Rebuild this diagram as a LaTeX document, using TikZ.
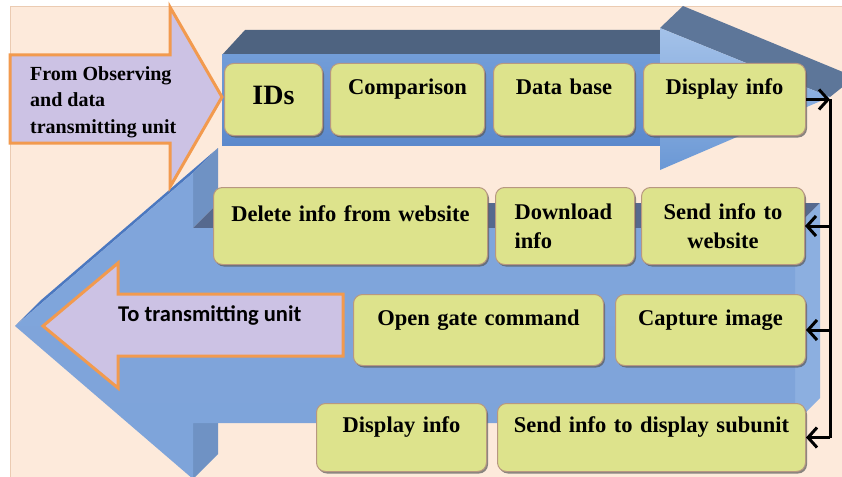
\documentclass[tikz,border=0pt]{standalone}
\usepackage{fontspec}
\setmainfont{Liberation Serif}
\newfontfamily\calfont{Carlito}
\usetikzlibrary{arrows.meta,shadows}
\definecolor{peach}{HTML}{FDEADB}
\definecolor{peachedge}{HTML}{EBCBB2}
\definecolor{uptopc}{HTML}{4E6380}
\definecolor{uphtopc}{HTML}{5D7699}
\definecolor{lowtopc}{HTML}{56698E}
\definecolor{lowsidec}{HTML}{8CAFE0}
\definecolor{panelc}{HTML}{6F92C4}
\definecolor{htopc}{HTML}{4B78C0}
\definecolor{lowA}{HTML}{80A5DB}
\definecolor{lowB}{HTML}{5886CE}
\definecolor{lowC}{HTML}{7EA4DA}
\definecolor{upA}{HTML}{729DD8}
\definecolor{upB}{HTML}{5C89CC}
\definecolor{uhA}{HTML}{A4C2E9}
\definecolor{uhB}{HTML}{6B98D5}
\definecolor{boxfill}{HTML}{DDE38C}
\definecolor{boxedge}{HTML}{B89880}
\definecolor{lav}{HTML}{CCC2E4}
\definecolor{orng}{HTML}{F29A4E}
\begin{document}
\begin{tikzpicture}[x=1pt,y=-1pt,
  box/.style={anchor=north west, rounded corners=9pt, fill=boxfill, draw=boxedge, line width=1pt,
    drop shadow={shadow xshift=1.5pt, shadow yshift=-2pt, opacity=0.7, fill=black!65},
    inner xsep=5pt, inner ysep=0pt, align=center,
    font=\bfseries\fontsize{22.5}{29}\selectfont},
  oneline/.style={text height=16pt, text depth=26pt},
  inarrow/.style={fill=lav, draw=orng, line width=3pt, line join=miter},
  conn/.style={draw=black, line width=3pt},
  tip/.style={-{Straight Barb[length=9pt,width=20pt,line width=3pt]}}
]
\useasboundingbox (0,0) rectangle (842,476);
\clip (0,0) rectangle (842,476);
\fill[white] (0,0) rectangle (842,476);
\fill[peach, draw=peachedge, line width=1pt] (10,7) rectangle (845,480);

% lower big arrow (pointing left)
\fill[htopc] (15,326) -- (40,301) -- (218,148) -- (193,173) -- cycle;
\fill[panelc] (193,173) -- (218,148) -- (218,203) -- (193,228) -- cycle;
\fill[panelc] (193,423) -- (218,398) -- (218,454) -- (193,479) -- cycle;
\fill[lowtopc] (193,228) -- (218,203) -- (820,203) -- (795,228) -- cycle;
\fill[lowsidec] (795,228) -- (820,203) -- (820,398) -- (795,423) -- cycle;
\shade[top color=lowA, middle color=lowB, bottom color=lowC] (15,326) -- (193,173) -- (193,228) -- (795,228) -- (795,423) -- (193,423) -- (193,479) -- cycle;

% upper big arrow (pointing right)
\fill[uptopc] (222,55) -- (245,30) -- (660,30) -- (660,55) -- cycle;
\shade[top color=upA, bottom color=upB] (222,55) rectangle (660,145);
\fill[uphtopc] (660,28) -- (683,6) -- (855,77) -- (830,97) -- cycle;
\shade[top color=uhA, bottom color=uhB] (660,28) -- (830,97) -- (660,170) -- cycle;

% input / output arrows
\filldraw[inarrow] (10,55) -- (170,55) -- (170,7) -- (222,97) -- (170,187) -- (170,143) -- (10,143) -- cycle;
\filldraw[inarrow] (43,326) -- (118,263) -- (118,294) -- (343,294) -- (343,356) -- (118,356) -- (118,388) -- cycle;
\node[anchor=north west, inner sep=0pt, align=left, font=\bfseries\fontsize{20}{26.5}\selectfont] (from) at (30,66) {From Observing\\and data\\transmitting unit};
\node[anchor=base west, inner sep=0pt, font=\calfont\bfseries\fontsize{22.5}{26}\selectfont] (to) at (118,321) {To transmitting unit};

% boxes
\node[box, minimum width=98pt, minimum height=72pt, text width=88pt, text height=19pt, text depth=8pt, font=\bfseries\fontsize{28}{30}\selectfont] (ids) at (224,63) {IDs};
\node[box, oneline, minimum width=154pt, minimum height=72pt, text width=144pt] (cmp) at (330,63) {Comparison};
\node[box, oneline, minimum width=141pt, minimum height=72pt, text width=131pt] (dbs) at (493,63) {Data base};
\node[box, oneline, minimum width=162pt, minimum height=72pt, text width=152pt] (din1) at (643,63) {Display info};

\node[box, oneline, minimum width=274pt, minimum height=77pt, text width=264pt] (del) at (213,187) {Delete info from website};
\node[box, minimum width=139pt, minimum height=77pt, text width=101pt, inner xsep=19pt, align=left] (dl) at (495,187) {Download\\info};
\node[box, minimum width=163pt, minimum height=77pt, text width=153pt] (sw) at (641,187) {Send info to\\website};

\node[box, oneline, minimum width=250pt, minimum height=71pt, text width=240pt] (og) at (353,294) {Open gate command};
\node[box, oneline, minimum width=190pt, minimum height=71pt, text width=180pt] (cap) at (615,294) {Capture image};

\node[box, oneline, minimum width=170pt, minimum height=68pt, text width=160pt] (din2) at (316,403) {Display info};
\node[box, oneline, minimum width=308pt, minimum height=68pt, text width=298pt] (sds) at (497,403) {Send info to display subunit};

% connectors
\coordinate (vx) at (830,0);
\draw[conn, tip] (din1.east) -- (din1.east -| vx);
\draw[conn] (din1.east -| vx) -- (sds.east -| vx);
\draw[conn, tip] (sw.east -| vx) -- (sw.east);
\draw[conn, tip] (cap.east -| vx) -- (cap.east);
\draw[conn, tip] (sds.east -| vx) -- (sds.east);
\end{tikzpicture}
\end{document}
